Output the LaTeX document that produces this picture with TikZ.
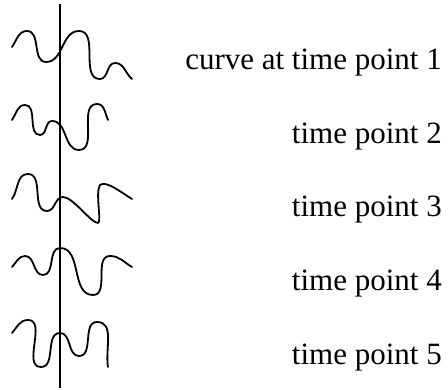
\documentclass[tikz,border=0pt]{standalone}
\usepackage{fontspec}
\setmainfont{Liberation Serif}
\begin{document}
\begin{tikzpicture}[x=1pt,y=1pt,
  wave/.style={line width=1.8pt, line cap=round, line join=round},
  axisline/.style={line width=1.8pt},
  lbl/.style={anchor=base east, inner sep=0pt, font=\fontsize{31}{37}\selectfont}]
\useasboundingbox (0,0) rectangle (448,390);
% vertical axis
\coordinate (top) at (60,386);
\coordinate (bot) at (60,2);
\draw[axisline] (top) -- (bot);
% curve 1
\draw[wave] (12,343) to[out=55,in=180] (27,359) to[out=0,in=180] (46,328)
  to[out=0,in=180] (79,359) to[out=0,in=180] (100,311) to[out=0,in=180] (115,327)
  to[out=0,in=140] (132,311);
% curve 2
\draw[wave] (12,270) to[out=55,in=180] (25,285) to[out=0,in=180] (40,255)
  to[out=0,in=180] (52,269) to[out=0,in=180] (79,240) to[out=0,in=180] (97,286)
  to[out=0,in=115] (108,270);
% curve 3
\draw[wave] (12,191) to[out=55,in=180] (28,216) to[out=0,in=180] (47,179)
  to[out=0,in=180] (63,193)
  .. controls (73,193) and (91,167) .. (98,167)
  .. controls (102,167) and (95,198) .. (100,205)
  .. controls (106,210) and (122,197) .. (132,191);
% curve 4
\draw[wave] (12,123) to[out=45,in=180] (25,134) to[out=0,in=180] (43,115)
  to[out=0,in=180] (60,142) to[out=0,in=180] (93,95) to[out=0,in=180] (110,134)
  to[out=0,in=150] (132,123);
% curve 5
\draw[wave] (12,57) to[out=50,in=180] (28,70) to[out=0,in=180] (41,23)
  to[out=0,in=180] (60,57) to[out=0,in=180] (79,34) to[out=0,in=180] (97,68)
  to[out=0,in=100] (108,23);
% labels
\node[lbl] (t1) at (442,320) {curve at time point 1};
\node[lbl] (t2) at (442,246.5) {time point 2};
\node[lbl] (t3) at (442,173) {time point 3};
\node[lbl] (t4) at (442,99) {time point 4};
\node[lbl] (t5) at (442,25) {time point 5};
\end{tikzpicture}
\end{document}
